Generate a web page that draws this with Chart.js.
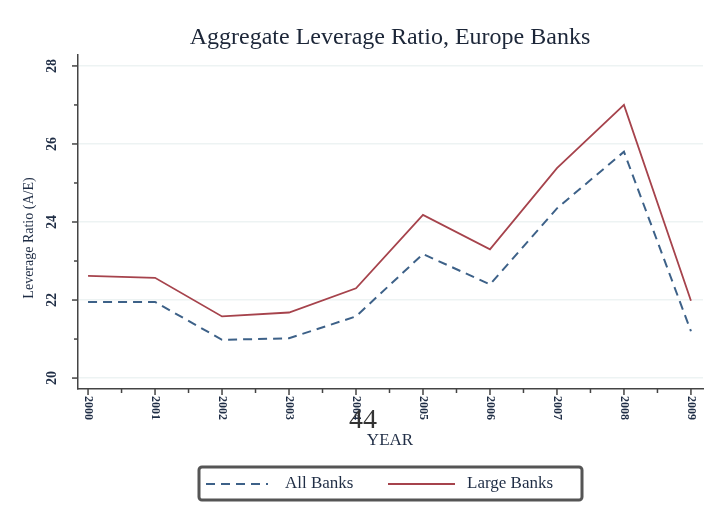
<!DOCTYPE html>
<html>
<head>
<meta charset="utf-8">
<script src="https://cdn.jsdelivr.net/npm/chart.js@4/dist/chart.umd.min.js"></script>
<style>
  html, body { margin: 0; padding: 0; background: #fff; }
  #wrap { width: 715px; height: 509px; }
</style>
</head>
<body>
<div id="wrap"><canvas id="chart1"></canvas></div>
<script>
const years = [2000, 2001, 2002, 2003, 2004, 2005, 2006, 2007, 2008, 2009];
const allBanks = [21.95, 21.95, 20.98, 21.02, 21.58, 23.18, 22.4, 24.35, 25.8, 21.2];
const largeBanks = [22.62, 22.57, 21.58, 21.68, 22.3, 24.18, 23.3, 25.38, 27.0, 21.98];
const yTicks = [20, 22, 24, 26, 28];

const serif = '"Liberation Serif", "DejaVu Serif", serif';
const ink = '#1f2d45';

// axis ticks, labels, titles and the boxed legend, Stata style
const decor = {
  id: 'decor',
  afterDraw(chart) {
    const ctx = chart.ctx;
    const xs = chart.scales.x, ys = chart.scales.y;
    const area = chart.chartArea;
    ctx.save();
    ctx.strokeStyle = '#444';
    ctx.lineWidth = 1.5;
    // y ticks
    for (let v = 20; v <= 28; v++) {
      const y = ys.getPixelForValue(v);
      const len = v % 2 === 0 ? 6 : 4;
      ctx.beginPath(); ctx.moveTo(area.left - len, y); ctx.lineTo(area.left, y); ctx.stroke();
    }
    // x ticks
    for (let v = years[0]; v <= years[years.length - 1]; v += 0.5) {
      const x = xs.getPixelForValue(v);
      const len = Number.isInteger(v) ? 6 : 4;
      ctx.beginPath(); ctx.moveTo(x, area.bottom); ctx.lineTo(x, area.bottom + len); ctx.stroke();
    }
    // y tick labels (vertical)
    ctx.fillStyle = ink;
    ctx.font = 'bold 14px ' + serif;
    ctx.textAlign = 'center';
    ctx.textBaseline = 'middle';
    yTicks.forEach(v => {
      ctx.save();
      ctx.translate(52, ys.getPixelForValue(v));
      ctx.rotate(-Math.PI / 2);
      ctx.fillText(String(v), 0, 0);
      ctx.restore();
    });
    // x tick labels (vertical)
    ctx.font = 'bold 12px ' + serif;
    years.forEach(v => {
      ctx.save();
      ctx.translate(xs.getPixelForValue(v), area.bottom + 19);
      ctx.rotate(Math.PI / 2);
      ctx.fillText(String(v), 0, 0);
      ctx.restore();
    });
    // y title
    ctx.font = '14px ' + serif;
    ctx.save();
    ctx.translate(29, 238);
    ctx.rotate(-Math.PI / 2);
    ctx.fillText('Leverage Ratio (A/E)', 0, 0);
    ctx.restore();
    // chart title
    ctx.font = '24px ' + serif;
    ctx.fillStyle = '#1c2638';
    ctx.fillText('Aggregate Leverage Ratio, Europe Banks', 390, 38);
    // page number printed over the chart
    ctx.font = '28px ' + serif;
    ctx.fillStyle = '#333';
    ctx.fillText('44', 363, 421);
    // x title
    ctx.font = '17px ' + serif;
    ctx.fillStyle = ink;
    ctx.fillText('YEAR', 390, 441);

    // legend
    ctx.strokeStyle = '#555';
    ctx.lineWidth = 3;
    ctx.beginPath();
    ctx.roundRect(199, 467, 383, 33, 3);
    ctx.stroke();
    const items = [
      { ds: chart.data.datasets[0], x0: 206, x1: 268, tx: 285 },
      { ds: chart.data.datasets[1], x0: 388, x1: 455, tx: 467 }
    ];
    ctx.textAlign = 'left';
    items.forEach(it => {
      ctx.save();
      ctx.strokeStyle = it.ds.borderColor;
      ctx.lineWidth = it.ds.borderWidth;
      ctx.setLineDash(it.ds.borderDash || []);
      ctx.beginPath(); ctx.moveTo(it.x0, 484); ctx.lineTo(it.x1, 484); ctx.stroke();
      ctx.restore();
      ctx.fillStyle = ink;
      ctx.font = '17px ' + serif;
      ctx.fillText(it.ds.label, it.tx, 484);
    });
    ctx.restore();
  }
};

const data1 = {
  datasets: [
    {
      label: 'All Banks',
      data: years.map((yr, i) => ({ x: yr, y: allBanks[i] })),
      borderColor: '#3d6188',
      borderWidth: 2,
      borderDash: [9, 6],
      pointRadius: 0,
      tension: 0
    },
    {
      label: 'Large Banks',
      data: years.map((yr, i) => ({ x: yr, y: largeBanks[i] })),
      borderColor: '#a6434c',
      borderWidth: 1.8,
      pointRadius: 0,
      tension: 0
    }
  ]
};

const config1 = {
  type: 'line',
  data: data1,
  options: {
    responsive: false,
    animation: false,
    layout: { padding: { left: 78, right: 12, top: 55, bottom: 120 } },
    plugins: {
      legend: { display: false },
      title: { display: false },
      tooltip: { enabled: false }
    },
    scales: {
      x: {
        type: 'linear',
        min: 1999.85,
        max: 2009.18,
        grid: { display: false, drawTicks: false },
        border: { color: '#444', width: 1.5 },
        ticks: { display: false }
      },
      y: {
        min: 19.72,
        max: 28.28,
        afterBuildTicks: (axis) => { axis.ticks = yTicks.map(v => ({ value: v })); },
        grid: { color: '#edf3f3', lineWidth: 1.5, drawTicks: false },
        border: { color: '#444', width: 1.5 },
        ticks: { display: false }
      }
    }
  },
  plugins: [decor]
};

const canvas = document.getElementById('chart1');
canvas.width = 715;
canvas.height = 509;
const chart1 = new Chart(canvas, config1);
</script>
</body>
</html>
